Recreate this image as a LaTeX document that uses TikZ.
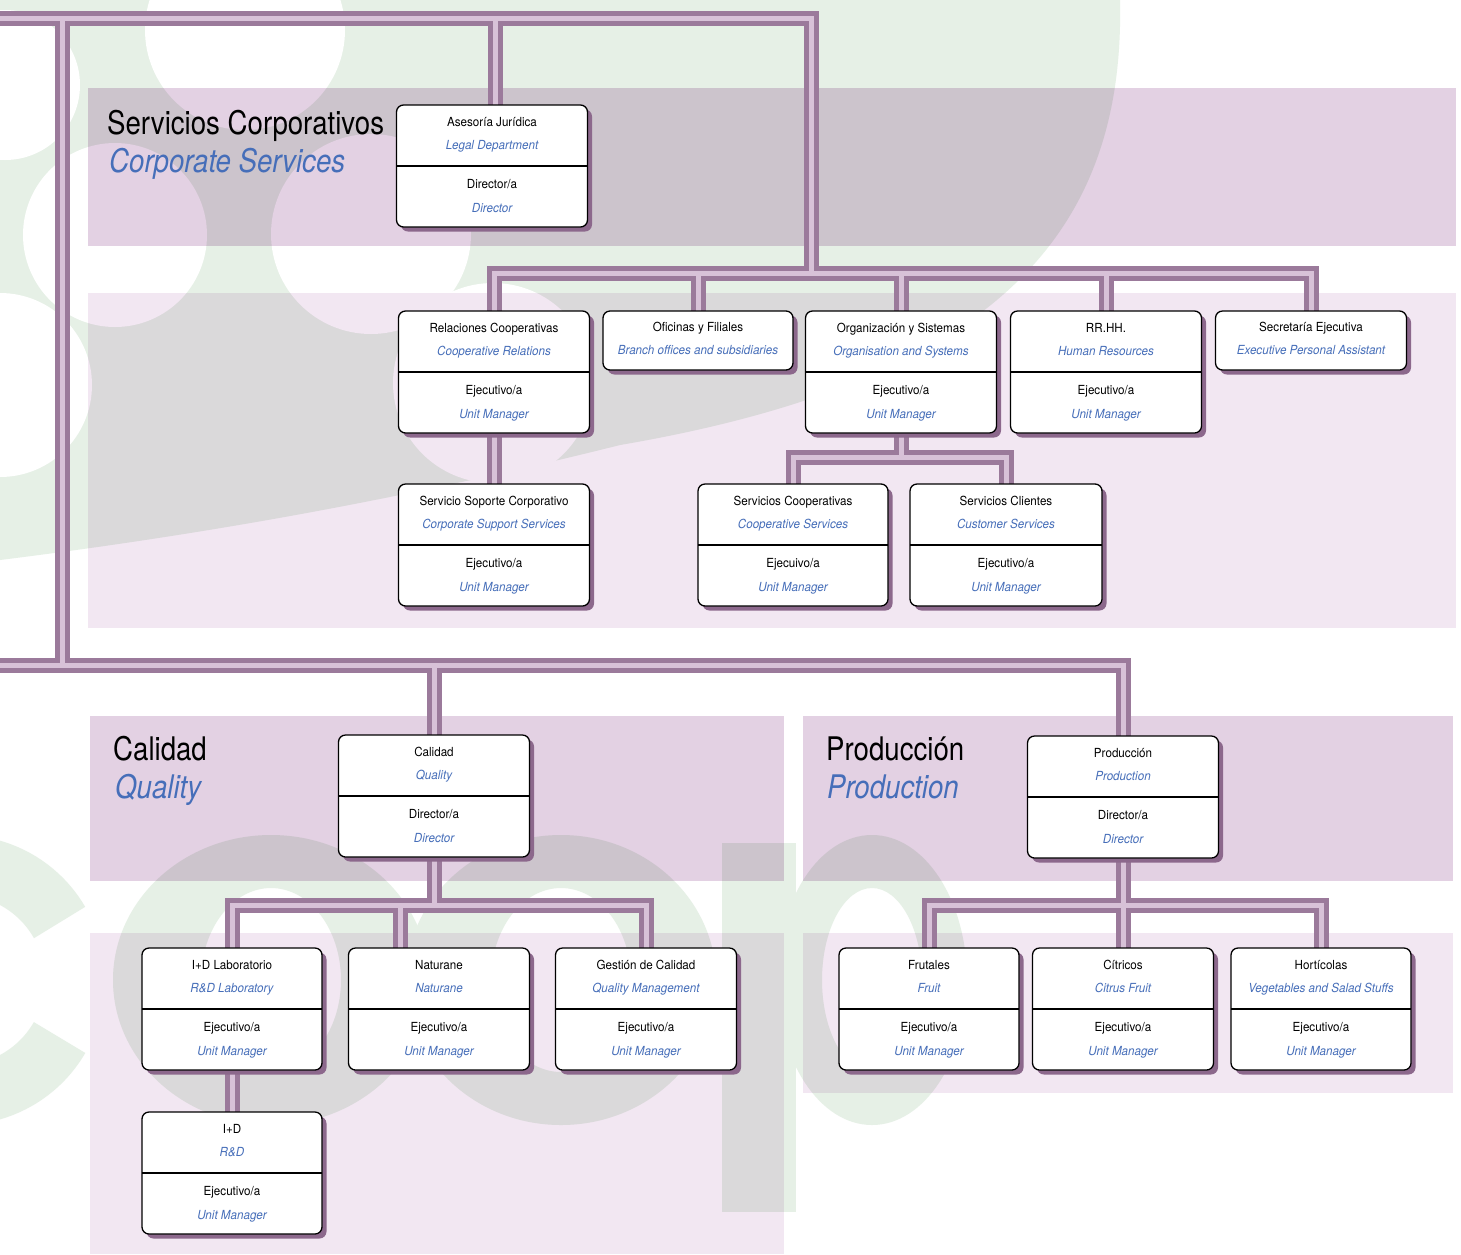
\documentclass[tikz,border=0pt]{standalone}
\usepackage{fontspec}
\setmainfont{TeX Gyre Heros}[FakeStretch=0.93]
\newfontfamily\hdrfont{TeX Gyre Heros}[FakeStretch=0.85]
\usetikzlibrary{calc,shadows}
\definecolor{wmgreen}{RGB}{230,240,230}
\definecolor{banddark}{RGB}{227,209,227}
\definecolor{bandlight}{RGB}{242,231,242}
\definecolor{wiredark}{RGB}{155,122,155}
\definecolor{wirelight}{RGB}{216,194,216}
\definecolor{shadowc}{RGB}{140,104,140}
\definecolor{engblue}{RGB}{70,110,185}
\pgfdeclarelayer{wm}
\pgfdeclarelayer{wires}
\pgfsetlayers{wm,wires,main}

\tikzset{
  box/.style={draw=black, line width=1.3pt, fill=white, rounded corners=7pt,
    inner sep=0pt, outer sep=0pt,
    drop shadow={opacity=1, fill=shadowc, shadow xshift=4.5pt, shadow yshift=-4.5pt}},
  divline/.style={draw=black, line width=1.2pt},
  tt/.style={font=\fontsize{12.5pt}{15pt}\selectfont, text=black, inner sep=0pt,
    text height=9pt, text depth=2.5pt, anchor=center},
  te/.style={tt, font=\fontsize{12.5pt}{15pt}\selectfont\itshape, text=engblue},
  hd/.style={font=\hdrfont\fontsize{32.5pt}{38pt}\selectfont, text=black, inner sep=0pt, anchor=base west},
  he/.style={hd, font=\hdrfont\fontsize{32.5pt}{38pt}\selectfont\itshape, text=engblue},
  wdark/.style={draw=wiredark, line width=15pt},
  wlight/.style={draw=wirelight, line width=5pt},
}

% name, cx, top, width, title, eng, role, roleeng
\newcommand\twobox[8]{%
  \node[box, minimum width=#4pt, minimum height=122pt, anchor=north] (#1) at (#2,#3) {};
  \draw[divline] (#1.west) -- (#1.east);
  \node[tt] (#1-t) at ($(#1.north)+(0,18)$) {#5};
  \node[te] (#1-e) at ($(#1.north)+(0,41)$) {#6};
  \node[tt] (#1-r) at ($(#1.north)+(0,80)$) {#7};
  \node[te] (#1-s) at ($(#1.north)+(0,104)$) {#8};
}
% name, cx, top, width, title, eng
\newcommand\onebox[6]{%
  \node[box, minimum width=#4pt, minimum height=59pt, anchor=north] (#1) at (#2,#3) {};
  \node[tt] (#1-t) at ($(#1.north)+(0,17)$) {#5};
  \node[te] (#1-e) at ($(#1.north)+(0,40)$) {#6};
}

\newcommand\wires[1]{%
  \draw[#1] (L0) -- (S1 |- L0) -- (S1);
  \draw[#1] (Lv) -- (Lv |- B0);
  \draw[#1] (La) -- (La |- asesoria.north);
  \draw[#1] (relaciones.north) |- (secretaria.north |- S1) -- (secretaria.north);
  \draw[#1] (oficinas.north) -- (oficinas.north |- S1);
  \draw[#1] (organizacion.north) -- (organizacion.north |- S1);
  \draw[#1] (rrhh.north) -- (rrhh.north |- S1);
  \draw[#1] (relaciones.south) -- (relaciones.south |- soporte.north);
  \draw[#1] (organizacion.south) -- (organizacion.south |- S2);
  \draw[#1] (coopserv.north) |- (clientes.north |- S2) -- (clientes.north);
  \draw[#1] (B0) -- (B0 -| produccion.north) -- (produccion.north);
  \draw[#1] (calidad.north |- B0) -- (calidad.north);
  \draw[#1] (calidad.south) -- (calidad.south |- Q1);
  \draw[#1] (idlab.north) |- (gestion.north |- Q1) -- (gestion.north);
  \draw[#1] (Qn) -- (Qn |- naturane.north);
  \draw[#1] (idlab.south) -- (idlab.south |- id.north);
  \draw[#1] (produccion.south) -- (produccion.south |- citricos.north);
  \draw[#1] (frutales.north) |- (horticolas.north |- Q1) -- (horticolas.north);
}

\begin{document}
\begin{tikzpicture}[x=1pt,y=-1pt]
\useasboundingbox (0,0) rectangle (1461,1254);

\begin{pgfonlayer}{wm}
  \fill[white] (0,0) rectangle (1461,1254);
  \begin{scope}
    \clip (0,0) rectangle (1461,1254);
    % upper watermark
    \fill[wmgreen] (0,0) -- (1120,0) .. controls (1125,230) and (1000,380) .. (620,445)
      .. controls (400,500) and (200,535) .. (0,560) -- cycle;
    \fill[white] (245,30) circle[radius=100pt];
    \fill[white] (115,235) circle[radius=92pt];
    \fill[white] (371,234) circle[radius=100pt];
    \fill[white] (5,85) circle[radius=75pt];
    \fill[white] (0,385) circle[radius=92pt];
    \fill[white] (493,383) circle[radius=100pt];
    % lower watermark
    \draw[wmgreen, line width=60pt] (-40,980) ++(30:115pt) arc[start angle=30, end angle=330, radius=115pt];
    \fill[wmgreen, even odd rule] (271,980) ellipse[x radius=158pt, y radius=145pt]
      (271,980) ellipse[x radius=70pt, y radius=92pt];
    \fill[wmgreen, even odd rule] (561,980) ellipse[x radius=155pt, y radius=145pt]
      (561,980) ellipse[x radius=70pt, y radius=92pt];
    \fill[wmgreen] (722,843) rectangle (796,1212);
    \fill[wmgreen, even odd rule] (872,980) ellipse[x radius=95pt, y radius=145pt]
      (872,980) ellipse[x radius=50pt, y radius=92pt];
  \end{scope}
  \begin{scope}[blend mode=multiply]
    \fill[banddark] (88,88) rectangle (1456,246);
    \fill[bandlight] (88,293) rectangle (1456,628);
    \fill[banddark] (90,716) rectangle (784,881);
    \fill[bandlight] (90,933) rectangle (784,1254);
    \fill[banddark] (803,716) rectangle (1453,881);
    \fill[bandlight] (803,933) rectangle (1453,1093);
  \end{scope}
\end{pgfonlayer}

% section headings
\node[hd] (h1) at (107,134) {Servicios Corporativos};
\node[he] (h1e) at (109,172) {Corporate Services};
\node[hd] (h2) at (113,760) {Calidad};
\node[he] (h2e) at (115,798) {Quality};
\node[hd] (h3) at (826,760) {Producción};
\node[he] (h3e) at (827,798) {Production};

% boxes
\twobox{asesoria}{492}{105}{191}{Asesoría Jurídica}{Legal Department}{Director/a}{Director}
\twobox{relaciones}{494}{311}{191}{Relaciones Cooperativas}{Cooperative Relations}{Ejecutivo/a}{Unit Manager}
\onebox{oficinas}{698}{311}{190}{Oficinas y Filiales}{Branch offices and subsidiaries}
\twobox{organizacion}{901}{311}{191}{Organización y Sistemas}{Organisation and Systems}{Ejecutivo/a}{Unit Manager}
\twobox{rrhh}{1106}{311}{191}{RR.HH.}{Human Resources}{Ejecutivo/a}{Unit Manager}
\onebox{secretaria}{1311}{311}{191}{Secretaría Ejecutiva}{Executive Personal Assistant}
\twobox{soporte}{494}{484}{191}{Servicio Soporte Corporativo}{Corporate Support Services}{Ejecutivo/a}{Unit Manager}
\twobox{coopserv}{793}{484}{190}{Servicios Cooperativas}{Cooperative Services}{Ejecuivo/a}{Unit Manager}
\twobox{clientes}{1006}{484}{192}{Servicios Clientes}{Customer Services}{Ejecutivo/a}{Unit Manager}
\twobox{calidad}{434}{735}{191}{Calidad}{Quality}{Director/a}{Director}
\twobox{produccion}{1123}{736}{191}{Producción}{Production}{Director/a}{Director}
\twobox{idlab}{232}{948}{180}{I+D Laboratorio}{R\&D Laboratory}{Ejecutivo/a}{Unit Manager}
\twobox{naturane}{439}{948}{181}{Naturane}{Naturane}{Ejecutivo/a}{Unit Manager}
\twobox{gestion}{646}{948}{181}{Gestión de Calidad}{Quality Management}{Ejecutivo/a}{Unit Manager}
\twobox{id}{232}{1112}{180}{I+D}{R\&D}{Ejecutivo/a}{Unit Manager}
\twobox{frutales}{929}{948}{180}{Frutales}{Fruit}{Ejecutivo/a}{Unit Manager}
\twobox{citricos}{1123}{948}{181}{Cítricos}{Citrus Fruit}{Ejecutivo/a}{Unit Manager}
\twobox{horticolas}{1321}{948}{180}{Hortícolas}{Vegetables and Salad Stuffs}{Ejecutivo/a}{Unit Manager}

% junction coordinates
\coordinate (L0) at (-12,18);
\coordinate (Lv) at (62,18);
\coordinate (La) at (495,18);
\coordinate (S1) at (811,273);
\coordinate (S2) at (906,457);
\coordinate (B0) at (-12,665);
\coordinate (Q1) at (438,905);
\coordinate (Qn) at (400,905);

\begin{pgfonlayer}{wires}
  \wires{wdark}
  \wires{wlight}
\end{pgfonlayer}
\end{tikzpicture}
\end{document}
